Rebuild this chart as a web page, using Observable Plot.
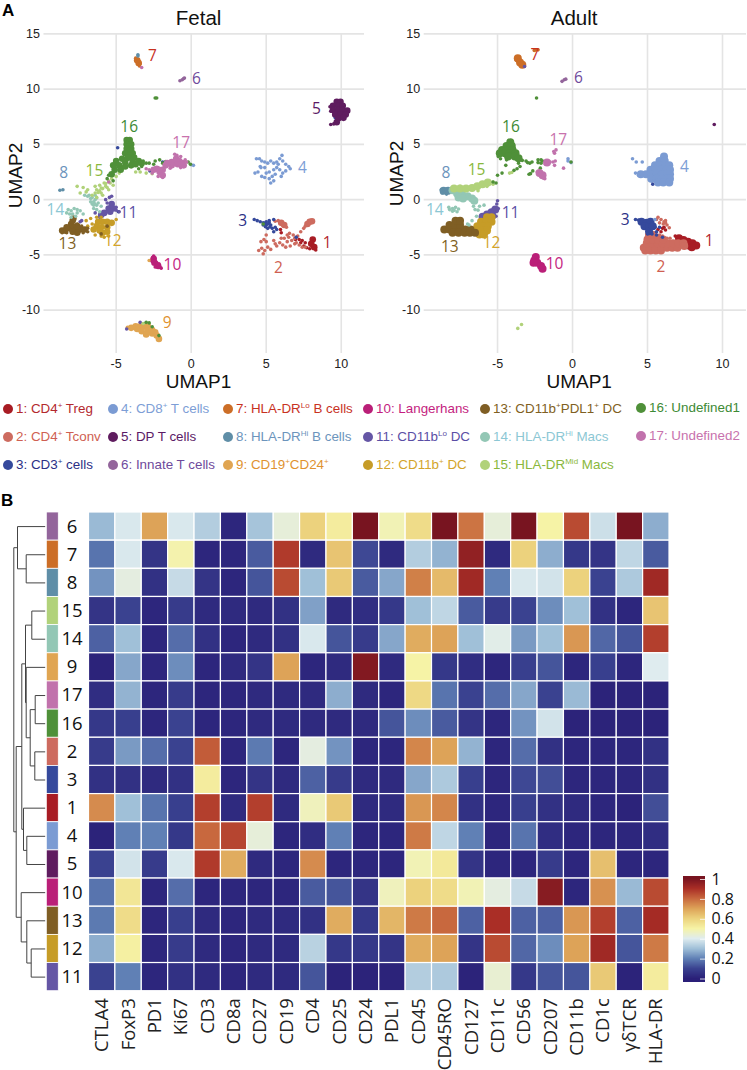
<!DOCTYPE html>
<html><head><meta charset="utf-8">
<script src="https://cdn.jsdelivr.net/npm/d3@7"></script>
<script src="https://cdn.jsdelivr.net/npm/@observablehq/plot@0.6"></script>
<style>
html,body{margin:0;padding:0;background:#fff}
#root{position:relative;width:747px;height:1070px;overflow:hidden;font-family:"Liberation Sans",sans-serif}
.lg{position:absolute;font-size:13.4px;line-height:16px;white-space:nowrap}
.lg sup{font-size:8px;line-height:0;vertical-align:baseline;position:relative;top:-5px}
.lgd{position:absolute;width:10px;height:10px;border-radius:50%}
.pl{position:absolute;font:bold 17px "Liberation Sans",sans-serif}
svg{overflow:visible}
</style></head><body><div id="root"></div>
<script>
const clusterIds=[1,2,3,4,5,6,7,8,9,10,11,12,13,14,15,16,17];
const clusterColors=["#a81c24","#cd6b5f","#35499c","#7b9bd3","#5f1c5f","#93659b","#cc6e27","#5f8ea7","#e0a552","#ba1f78","#6556a5","#c69c27","#7f5e24","#93c7b5","#b1d27a","#4f9039","#c172ac"];
const labelColors=["#b3282d","#cf5f52","#2b2f86","#7d9ed6","#5b1a66","#6f4a9c","#c8321f","#6c94bc","#e0922f","#c41e80","#5a4ea5","#d3a42a","#7f5f22","#8cc7d4","#8ab83c","#3d8a35","#c872ad"];
const legendNames=['1: CD4<sup>+</sup> Treg','2: CD4<sup>+</sup> Tconv','3: CD3<sup>+</sup> cells','4: CD8<sup>+</sup> T cells','5: DP T cells','6: Innate T cells','7: HLA-DR<sup>Lo</sup> B cells','8: HLA-DR<sup>Hi</sup> B cells','9: CD19<sup>+</sup>CD24<sup>+</sup>','10: Langerhans','11: CD11b<sup>Lo</sup> DC','12: CD11b<sup>+</sup> DC','13: CD11b<sup>+</sup>PDL1<sup>+</sup> DC','14: HLA-DR<sup>Hi</sup> Macs','15: HLA-DR<sup>Mid</sup> Macs','16: Undefined1','17: Undefined2'];

// fetal panel: scattered cells (p) and dense cores (c), per cluster
const fp1=[[7.0,-3.4],[7.2,-3.6],[7.4,-3.7],[7.6,-3.9],[7.3,-3.9],[7.5,-4.2],[7.7,-4.35],[7.9,-4.45],[6.95,-3.6],[5.95,-2.7],[6.0,-3.0],[8.3,-4.55]];
const fc1=[[8.1,-3.6],[8.0,-4.0],[8.2,-4.3]];
const fp2=[[4.5,-4.6],[4.7,-4.4],[4.8,-4.9],[4.9,-4.6],[5.1,-4.3],[5.3,-4.5],[5.0,-3.8],[4.65,-3.8],[4.85,-3.6],[5.0,-3.2],[5.5,-3.7],[5.7,-4.2],[5.9,-3.9],[6.1,-4.1],[6.2,-3.5],[6.4,-3.8],[6.5,-3.4],[6.7,-3.7],[6.8,-3.2],[6.9,-4.0],[7.1,-3.3],[7.0,-3.9],[6.3,-4.3],[6.6,-4.2],[7.2,-4.1],[7.4,-4.3],[5.6,-4.0],[6.0,-3.5],[6.4,-3.2],[7.6,-4.3],[5.6,-1.95],[5.8,-1.9],[6.0,-2.0],[6.2,-2.2],[6.35,-2.5],[6.1,-2.3],[5.9,-2.1],[7.3,-2.9],[7.5,-2.6],[7.7,-2.3],[7.6,-2.4],[6.55,-3.05],[6.9,-3.5]];
const fc2=[[7.9,-2.0],[7.75,-2.2],[8.05,-1.95],[6.0,-2.1],[6.2,-2.3]];
const fp3=[[4.2,-1.8],[4.4,-1.9],[4.6,-2.0],[4.8,-2.1],[5.0,-2.0],[5.2,-2.1],[4.8,-2.3],[5.0,-2.3],[5.3,-2.3],[5.1,-2.6],[5.4,-2.6],[5.6,-2.5],[5.5,-2.9],[5.7,-2.7],[5.2,-1.9],[5.5,-1.8],[7.0,-3.4],[9.55,7.6],[9.6,7.4],[9.7,7.1],[-4.9,4.7],[-4.85,-1.1],[-2.75,2.6],[-1.9,3.4],[4.9,-2.15],[5.1,-2.2],[4.95,-2.45],[5.25,-2.45]];
const fp4=[[4.25,2.4],[4.45,2.5],[4.6,3.0],[4.35,3.7],[4.55,3.7],[4.7,3.5],[4.9,3.4],[4.65,2.9],[4.9,2.9],[5.1,3.3],[5.3,3.5],[5.5,3.3],[5.7,3.4],[5.9,3.7],[6.05,4.0],[6.1,3.5],[6.3,3.2],[6.5,3.0],[6.6,2.8],[6.3,2.6],[6.1,2.4],[5.9,2.7],[5.7,2.9],[5.5,2.7],[5.2,2.5],[5.0,2.4],[4.9,2.0],[5.2,1.9],[5.4,2.1],[5.6,2.3],[6.0,2.1],[5.3,1.5],[5.5,1.7],[4.7,2.1],[5.8,3.2],[0.0,3.15],[0.15,3.1]];
const fp5=[[9.5,6.85],[9.3,6.8],[9.25,8.4],[9.3,8.0]];
const fc5=[[9.7,8.85],[9.95,8.85],[9.45,8.5],[9.8,8.5],[10.1,8.5],[9.45,8.1],[9.8,8.1],[10.1,8.1],[10.4,8.05],[9.6,7.7],[9.95,7.7],[10.3,7.7],[9.8,7.35],[10.15,7.4],[9.7,7.0]];
const fp6=[[-0.75,10.75],[-0.6,10.85],[-0.5,10.95],[-0.45,11.0]];
const fp7=[[-3.7,12.8],[-3.65,12.5],[-3.55,12.25],[-3.45,12.1],[-3.5,12.6],[-3.4,12.3]];
const fc7=[[-3.6,12.6],[-3.5,12.35]];
const fp8=[[-8.75,0.85],[-8.55,0.9],[-3.55,13.1],[-3.55,13.0]];
const fp9=[[-2.8,-5.5],[-2.65,-5.45],[-4.25,-11.55]];
const fc9=[[-4.0,-11.6],[-3.7,-11.45],[-3.4,-11.45],[-3.6,-11.7],[-3.2,-11.5],[-2.9,-11.4],[-3.3,-11.9],[-2.9,-11.9],[-2.6,-12.1],[-2.4,-12.0],[-2.3,-12.3],[-2.15,-12.6],[-2.6,-11.8],[-3.0,-12.2]];
const fp10=[[-2.5,-5.1],[-2.6,-5.6],[-2.3,-5.7],[-2.0,-6.2],[-2.15,-5.8],[-2.4,-6.1],[-2.55,-5.25],[-2.1,-6.1]];
const fc10=[[-2.5,-5.35],[-2.45,-5.7],[-2.2,-6.0]];
const fp11=[[-5.6,-0.3],[-5.0,-0.7],[-4.8,-1.1],[-5.3,0.3],[-5.45,0.2],[-6.1,-1.6],[-6.4,-1.2],[-5.0,-0.95],[-7.4,-2.0],[-7.3,-1.9],[-8.0,-2.5],[-5.7,0.0],[-3.4,-11.1],[-4.3,-11.7]];
const fc11=[[-5.3,-0.4],[-5.5,-0.8],[-5.2,-0.8],[-5.8,-1.2],[-5.4,-1.1],[-6.0,-1.4]];
const fp12=[[-7.0,-1.9],[-6.7,-1.7],[-6.6,-2.2],[-6.3,-1.6],[-6.0,-1.6],[-6.0,-3.3],[-5.8,-3.4],[-6.4,-3.2],[-5.5,-3.3],[-5.0,-1.8],[-6.9,-2.4]];
const fc12=[[-6.2,-2.0],[-5.9,-2.0],[-5.6,-2.0],[-6.3,-2.4],[-6.0,-2.5],[-5.6,-2.5],[-5.9,-3.0],[-5.6,-2.9],[-6.1,-2.8],[-5.3,-2.1],[-6.5,-2.7]];
const fp13=[[-8.6,-3.0],[-8.3,-3.0],[-7.9,-3.0],[-7.5,-3.0],[-7.2,-3.0],[-6.9,-2.9],[-7.3,-2.4],[-7.6,-2.2],[-6.9,-2.6],[-6.0,-3.1],[-5.6,-2.4]];
const fc13=[[-8.4,-2.8],[-8.1,-2.6],[-8.0,-2.2],[-7.8,-2.5],[-7.9,-1.9],[-7.85,-1.7],[-7.7,-2.8],[-7.4,-2.7],[-7.1,-2.7],[-8.3,-2.5],[-8.6,-2.8],[-7.6,-2.4],[-7.6,-3.0],[-7.9,-2.9]];
const fp14=[[-7.1,0.4],[-6.9,0.3],[-6.7,0.1],[-6.5,-0.2],[-6.4,0.0],[-6.6,-0.4],[-6.3,-0.5],[-6.5,-0.8],[-6.3,-0.9],[-6.1,-1.1],[-6.2,-0.3],[-6.8,0.4],[-6.0,-0.6],[-6.4,0.4],[-8.2,-0.9],[-8.0,-1.0],[-7.8,-0.8],[-7.6,-0.9],[-7.9,-1.3],[-7.6,-1.2],[-8.1,-1.3],[-7.4,-1.0],[-8.3,-1.2],[-7.7,-1.5],[-7.2,-1.3],[-8.0,-1.6],[-6.5,-0.5],[-6.7,-0.2],[-6.6,0.2],[-6.3,0.15],[-6.45,-0.35]];
const fp15=[[-3.7,2.5],[-3.4,2.5],[-3.0,2.4],[-2.6,2.35],[-5.4,1.5],[-5.7,1.2],[-5.9,1.0],[-6.1,0.8],[-6.4,0.6],[-6.6,0.4],[-5.8,1.5],[-5.5,0.9],[-6.9,0.9],[-7.0,0.7],[-7.6,1.2],[-7.2,1.1],[-6.0,0.6],[-5.6,1.1],[-6.3,0.2],[-5.9,0.4],[-6.3,0.9],[-5.2,1.3],[-7.4,0.6],[-6.4,1.2],[-6.1,1.3],[-5.3,1.9],[-5.0,2.1],[-4.8,2.4],[-3.2,-11.2],[-5.5,1.7],[-5.7,1.45],[-6.0,1.05],[-6.2,0.65]];
const fc16=[[-4.3,5.4],[-4.1,5.4],[-4.15,5.2],[-4.3,5.0],[-4.0,5.0],[-4.15,4.8],[-4.3,4.6],[-4.0,4.6],[-4.15,4.4],[-3.9,4.2],[-4.4,4.2],[-4.15,4.0],[-4.2,3.8],[-3.8,3.8],[-4.6,3.7],[-5.0,3.5],[-4.4,3.4],[-3.9,3.4],[-3.5,3.5],[-4.8,3.1],[-4.4,3.0],[-4.0,3.1],[-5.1,2.7],[-4.7,2.7],[-5.3,2.3],[-3.7,3.2],[-3.3,3.3],[-5.2,3.1]];
const fp16=[[-3.2,3.5],[-3.0,3.3],[-3.3,3.0],[-2.8,3.3],[-2.4,3.5],[-2.1,3.6],[-1.9,3.3],[-1.7,3.2],[-2.5,3.2],[-3.5,2.8],[-5.5,2.2],[-5.6,1.9],[-5.2,1.7],[-1.7,3.45],[-0.05,3.2],[-0.2,3.4],[-2.4,9.2],[-2.3,9.2],[-3.0,-11.1],[-2.8,-11.15],[-2.15,-12.3],[-2.6,-11.5],[4.8,-2.2]];
const fc17=[[-1.0,3.7],[-0.8,3.5],[-1.3,3.4],[-1.1,3.4],[-0.6,3.3],[-0.9,3.2],[-0.7,3.2],[-1.3,3.1],[-1.7,3.1],[-0.5,3.1],[-1.9,2.7],[-2.1,2.5],[-1.9,2.2],[-2.3,2.8],[-2.5,2.7],[-1.6,3.3],[-2.15,2.7]];
const fp17=[[-1.1,4.1],[-0.95,4.0],[-0.7,3.9],[-0.4,3.6],[-0.3,3.4],[-2.8,2.7],[-3.0,2.8],[-2.6,2.4],[-2.2,2.1],[-1.9,2.0],[-0.7,2.9],[-1.4,2.85],[-3.3,11.95],[-5.5,1.6]];

// adult panel
const ap1=[[6.85,-3.3],[6.0,-2.6],[6.2,-2.75],[5.9,-2.9],[6.1,-2.5],[5.7,-2.7]];
const ac1=[[7.1,-3.5],[7.4,-3.65],[7.7,-3.8],[8.0,-3.95],[8.25,-4.15],[7.75,-4.15],[7.95,-4.3]];
const ap2=[[5.9,-1.8],[6.1,-2.0],[6.3,-2.3],[6.45,-2.55],[5.6,-1.8],[5.8,-2.1],[6.0,-3.3],[5.8,-3.2],[6.3,-3.5],[6.5,-3.5],[6.2,-1.9],[5.7,-1.6],[6.05,-2.2],[6.2,-2.1]];
const ac2=[[4.85,-4.6],[5.2,-4.6],[5.55,-4.6],[5.9,-4.6],[4.75,-4.35],[5.1,-4.35],[5.5,-4.35],[5.9,-4.35],[6.3,-4.35],[6.65,-4.35],[7.0,-4.35],[4.95,-3.95],[5.3,-3.95],[5.65,-3.95],[6.0,-3.95],[6.35,-3.95],[6.7,-3.95],[7.05,-3.95],[7.4,-3.95],[5.0,-3.6],[5.35,-3.6],[5.7,-3.6],[6.05,-3.6],[5.1,-3.2],[5.4,-3.2],[7.45,-4.2]];
const ap3=[[4.2,-1.8],[4.4,-1.85],[5.5,-2.5],[5.6,-2.9],[5.3,-3.1],[5.6,-3.2],[6.0,-3.4],[5.0,-3.1],[5.8,-2.5],[5.3,1.7],[5.35,1.4],[5.4,1.9]];
const ac3=[[4.6,-2.0],[4.95,-2.1],[5.2,-2.0],[4.8,-2.4],[5.1,-2.5],[5.1,-2.85],[5.35,-2.4]];
const ap4=[[4.0,3.7],[4.25,3.4],[4.65,3.4],[4.4,2.2],[4.2,2.4],[-0.3,3.7],[-0.3,3.5],[-0.1,3.35],[5.5,-1.8]];
const ac4=[[6.1,3.9],[5.8,3.5],[6.15,3.5],[5.5,3.1],[5.85,3.1],[6.2,3.1],[6.45,3.1],[5.2,2.7],[5.55,2.7],[5.9,2.7],[6.25,2.7],[6.5,2.7],[4.55,2.3],[4.9,2.3],[5.25,2.3],[5.6,2.3],[5.95,2.3],[6.3,2.3],[6.5,2.3],[5.25,1.9],[5.6,1.9],[5.95,1.9],[6.3,1.9],[6.5,1.9],[5.7,1.55],[6.05,1.55],[6.45,1.55]];
const ap2b=[[5.2,2.1],[5.7,2.4],[6.5,2.3],[5.3,2.5],[5.9,3.1],[6.4,3.2],[4.55,2.3]];
const ap5=[[9.45,6.8]];
const ap6=[[-0.7,10.7],[-0.55,10.85],[-0.45,10.9]];
const ap7=[[-3.75,12.6],[-3.2,12.1],[-2.45,13.55],[-2.3,13.55],[-2.55,13.5]];
const ac7=[[-3.65,12.8],[-3.5,12.4],[-3.35,12.2]];
const ap8=[[-8.75,0.9],[-8.7,0.6],[-8.4,0.5],[-8.1,1.0]];
const ac8=[[-8.6,0.8],[-8.3,0.8]];
const ac10=[[-2.45,-5.2],[-2.55,-5.5],[-2.35,-5.7],[-2.1,-6.0],[-2.0,-6.25],[-2.6,-5.7]];
const ap11=[[-5.0,-0.1],[-5.05,-0.4],[-4.95,-0.8],[-5.1,-1.5],[-5.3,-1.5],[-3.2,12.05]];
const ac11=[[-6.0,-1.55],[-5.7,-1.35],[-5.4,-1.15],[-5.15,-0.9],[-5.35,-1.45]];
const ac12=[[-5.7,-1.6],[-5.4,-1.6],[-6.1,-2.0],[-5.75,-2.0],[-5.4,-2.0],[-6.35,-2.4],[-6.0,-2.4],[-5.65,-2.4],[-6.7,-2.8],[-6.35,-2.8],[-6.0,-2.8],[-5.7,-2.8],[-6.2,-3.15],[-5.9,-3.15]];
const ac13=[[-8.55,-2.7],[-8.2,-2.7],[-7.85,-2.7],[-7.5,-2.7],[-7.15,-2.7],[-6.8,-2.7],[-8.2,-2.3],[-7.85,-2.3],[-7.5,-2.3],[-7.8,-1.9],[-7.5,-1.9],[-8.0,-3.0],[-7.6,-3.0],[-7.2,-3.0],[-6.85,-3.0],[-6.5,-3.0]];
const ac14=[[-8.0,0.85],[-7.7,0.55],[-7.35,0.45],[-7.0,0.3],[-6.7,0.1],[-7.6,0.2],[-7.3,0.1],[-6.55,-0.1]];
const ap14=[[-8.2,-0.9],[-8.0,-0.8],[-7.8,-0.7],[-7.6,-0.85],[-7.7,-1.1],[-8.0,-1.05],[-8.25,-0.7],[-6.6,-0.6],[-6.5,-0.9],[-6.2,-0.6],[-6.3,-0.95],[-6.4,-1.5],[-6.7,-1.9],[-6.9,-2.3],[-7.0,-2.2],[-5.9,-0.5],[-7.9,-0.95]];
const ac15=[[-7.9,1.0],[-7.5,1.0],[-7.1,1.0],[-6.7,1.05],[-6.35,1.2],[-6.0,1.4],[-5.65,1.55]];
const ap15=[[-7.9,1.1],[-7.5,1.2],[-5.3,1.6],[-5.3,1.4],[-5.7,1.2],[-6.3,0.8],[-3.65,-11.65],[-3.4,-11.3],[-4.2,2.4],[-4.05,2.45]];
const ac16=[[-4.15,5.2],[-4.4,4.85],[-4.05,4.85],[-4.7,4.5],[-4.35,4.5],[-4.0,4.5],[-4.85,4.2],[-4.5,4.2],[-4.15,4.2],[-3.8,4.2],[-4.3,3.9],[-3.85,3.9],[-3.6,3.75]];
const ap16=[[-3.1,3.5],[-3.0,3.35],[-2.85,3.3],[-4.95,3.9],[-4.8,3.7],[-4.4,3.6],[-5.0,2.2],[-4.7,2.4],[-4.45,3.1],[-3.7,2.8],[-3.5,3.0],[-3.9,2.65],[-3.6,3.3],[-2.9,2.3],[-2.8,2.35],[-2.7,3.4],[-2.3,3.6],[-2.1,3.6],[-2.1,3.3],[-2.0,3.5],[-2.15,2.85],[-2.3,3.35],[-5.3,1.6],[-5.1,1.5],[-2.4,9.2],[-0.1,3.4],[-2.65,2.6],[-3.35,3.55]];
const ac17=[[-2.2,2.4],[-2.0,2.2],[-1.7,3.35]];
const ap17=[[-2.35,2.5],[-1.85,1.9],[-1.2,4.2],[-1.1,4.5],[-1.25,4.35],[-1.2,3.1],[-1.3,3.4],[-1.15,3.5],[-0.6,2.85],[-1.8,3.2],[-1.5,3.4],[-1.95,1.95]];

const fetalLabels=[[1,9.07,-3.9],[2,5.82,-6.2],[3,3.44,-1.93],[4,7.42,2.9],[5,8.35,8.2],[6,0.35,10.9],[7,-2.58,13],[8,-8.49,2.38],[9,-1.6,-11.17],[10,-1.25,-5.93],[11,-4.18,-1.2],[12,-5.22,-3.7],[13,-8.25,-4.03],[14,-9.05,-0.93],[15,-6.45,2.56],[16,-4.13,6.53],[17,-0.67,5.12]];
const adultLabels=[[1,9.11,-3.79],[2,5.89,-6.11],[3,3.51,-1.87],[4,7.47,2.95],[6,0.4,10.96],[7,-2.51,13.1],[8,-8.44,2.44],[10,-1.2,-5.84],[11,-4.13,-1.17],[12,-5.4,-3.95],[13,-8.18,-4.27],[14,-9.18,-0.9],[15,-6.4,2.65],[16,-4.11,6.57],[17,-0.95,5.39]];
const xTicks=[-5,0,5,10], yTicks=[-10,-5,0,5,10,15];

// heatmap
const rowOrder=[6,7,8,15,14,9,17,16,2,3,1,4,5,10,13,12,11];
const markers=["CTLA4","FoxP3","PD1","Ki67","CD3","CD8a","CD27","CD19","CD4","CD25","CD24","PDL1","CD45","CD45RO","CD127","CD11c","CD56","CD207","CD11b","CD1c","γδTCR","HLA-DR"];
const r6=[.29,.39,.7,.39,.33,.02,.31,.43,.6,.52,1,.48,.57,1,.78,.43,1,.5,.85,.37,1,.27];
const r7=[.18,.39,.06,.49,.02,.02,.14,.88,.03,.63,.11,.03,.33,.28,.95,.03,.6,.27,.07,.06,.35,.14];
const r8=[.23,.42,.05,.36,.06,.02,.13,.85,.3,.62,.14,.26,.76,.65,.92,.2,.39,.38,.6,.1,.32,.92];
const r15=[.06,.1,.02,.08,.03,.03,.03,.05,.25,.03,.04,.07,.3,.35,.14,.08,.1,.22,.3,.05,.02,.63];
const r14=[.15,.3,.02,.17,.05,.02,.03,.05,.39,.13,.08,.26,.68,.7,.3,.41,.24,.3,.72,.16,.13,.87];
const r9=[.01,.26,.02,.22,.02,.03,.06,.7,.02,.03,.98,.03,.5,.07,.04,.02,.09,.13,.02,.09,.02,.4];
const r17=[.04,.28,.02,.08,.02,.02,.03,.03,.03,.27,.03,.02,.58,.18,.1,.17,.26,.1,.29,.01,.01,.01];
const r16=[.07,.09,.02,.1,.02,.02,.03,.03,.03,.03,.03,.13,.22,.14,.06,.02,.23,.38,.01,.01,.01,.01];
const r2=[.08,.24,.17,.1,.82,.02,.19,.02,.42,.23,.02,.02,.75,.7,.28,.02,.17,.05,.02,.02,.02,.05];
const r3=[.05,.05,.03,.05,.52,.02,.06,.03,.15,.08,.03,.03,.26,.32,.09,.02,.11,.12,.02,.02,.02,.05];
const r1=[.74,.3,.18,.09,.87,.03,.87,.03,.47,.62,.03,.03,.72,.75,.05,.02,.09,.05,.03,.02,.01,.12];
const r4=[.01,.2,.2,.07,.8,.86,.43,.02,.04,.2,.02,.02,.77,.35,.2,.02,.18,.04,.02,.02,.02,.04];
const r5=[.1,.38,.08,.39,.88,.68,.03,.02,.74,.02,.02,.02,.48,.53,.06,.02,.02,.08,.02,.64,.02,.02];
const r10=[.18,.54,.02,.17,.02,.02,.02,.02,.14,.13,.06,.47,.6,.57,.48,.42,.36,.97,.02,.73,.29,.85];
const r13=[.19,.57,.02,.09,.03,.02,.03,.03,.05,.68,.07,.66,.77,.8,.15,.9,.15,.15,.72,.87,.15,.91];
const r12=[.27,.51,.02,.08,.03,.02,.03,.03,.34,.07,.07,.06,.68,.7,.06,.85,.16,.22,.7,.92,.13,.77];
const r11=[.1,.2,.02,.05,.03,.02,.03,.03,.13,.01,.01,.01,.33,.32,.01,.44,.07,.13,.13,.62,.01,.52];
const heatRows=[r6,r7,r8,r15,r14,r9,r17,r16,r2,r3,r1,r4,r5,r10,r13,r12,r11];
const colorDomain=[0,.1,.2,.3,.4,.5,.6,.7,.8,.9,1];
const colorRange=["#2a1f78","#3a4290","#6080b5","#a0c0d8","#dfecef","#f6f3a6","#ecd27d","#dda358","#c8683e","#aa2e26","#781420"];
const colorbarTicks=[0,.2,.4,.6,.8,1];

// dendrogram merges: height, row position of each child, height of each child
const dendroMerges=[[19,1,2,0,0],[27.7,0,1.5,0,19],[13.4,3,4,0,0],[10,6,7,0,0],[10.4,8,9,0,0],[15,6.5,8.5,10,10.4],[19,5,7.5,0,15],[19.7,3.5,6.25,13.4,19],[18.4,11,12,0,0],[21.7,10,11.5,0,18.4],[23.4,4.875,10.75,19.7,21.7],[14,15,16,0,0],[18.4,14,15.5,0,14],[24,13,14.75,0,18.4],[29,7.81,13.875,23.4,24],[31.4,.75,10.84,27.7,29]];

const root=document.getElementById("root");
const place=(el,l,t)=>{el.style.position="absolute";el.style.left=l+"px";el.style.top=t+"px";root.appendChild(el);return el;};
const sansFont='"Liberation Sans",sans-serif', humanFont='"Open Sans",sans-serif';

function scatter(o){
  const pts=o.pts.flatMap(([c,a])=>a.map(([x,y])=>({c,x,y})));
  const core=o.core.flatMap(([c,a])=>a.map(([x,y])=>({c,x,y})));
  const drawn=[];
  for(const id of clusterIds){
    drawn.push(Plot.dot(core.filter(d=>d.c===id),{x:"x",y:"y",fill:"c",r:o.coreR,stroke:"none"}));
    drawn.push(Plot.dot(pts.filter(d=>d.c===id),{x:"x",y:"y",fill:"c",r:1.8,stroke:"none"}));
  }
  return Plot.plot({
    width:o.width,height:390,marginLeft:o.ml,marginRight:o.mr,marginTop:33,marginBottom:37,
    style:{background:"transparent",fontFamily:sansFont,color:"#222"},
    x:{domain:o.xd},y:{domain:[-13.92,15.03]},
    color:{type:"ordinal",domain:clusterIds,range:clusterColors},
    marks:[
      Plot.gridX(xTicks,{stroke:"#e4e4e4",strokeWidth:1.6,strokeOpacity:1}),
      Plot.gridY(yTicks,{stroke:"#e4e4e4",strokeWidth:1.6,strokeOpacity:1}),
      Plot.axisX({ticks:xTicks,tickFormat:String,tickSize:0,tickPadding:6,fontSize:12.5,label:null,anchor:"bottom"}),
      Plot.axisY({ticks:yTicks,tickFormat:String,tickSize:0,tickPadding:4,fontSize:12.5,label:null,anchor:"left"}),
      ...drawn,
      ...o.labels.map(([id,x,y])=>Plot.text([[x,y]],{x:d=>d[0],y:d=>d[1],text:()=>String(id),fill:labelColors[id-1],fontSize:15.5,fontFamily:humanFont})),
      Plot.text([o.title],{frameAnchor:"top",lineAnchor:"middle",dx:o.tdx,dy:-15,fontSize:20.5,fill:"#111"}),
      Plot.text(["UMAP1"],{frameAnchor:"bottom",lineAnchor:"middle",dx:o.udx,dy:28.5,fontSize:19,fill:"#111"}),
      Plot.text(["UMAP2"],{frameAnchor:"left",textAnchor:"middle",lineAnchor:"middle",rotate:-90,dx:o.vdx,dy:o.vdy,fontSize:19,fill:"#111"})
    ]
  });
}
place(scatter({title:"Fetal",width:372,ml:43.5,mr:8,coreR:3.3,xd:[-9.81,11.55],tdx:-5.7,udx:-5.7,vdx:-28.5,vdy:-18,labels:fetalLabels,
  pts:[[1,fp1],[2,fp2],[3,fp3],[4,fp4],[5,fp5],[6,fp6],[7,fp7],[8,fp8],[9,fp9],[10,fp10],[11,fp11],[12,fp12],[13,fp13],[14,fp14],[15,fp15],[16,fp16],[17,fp17]],
  core:[[1,fc1],[2,fc2],[5,fc5],[7,fc7],[9,fc9],[10,fc10],[11,fc11],[12,fc12],[13,fc13],[16,fc16],[17,fc17]]}),0,0);
place(scatter({title:"Adult",width:375,ml:51.7,mr:1,coreR:4,xd:[-9.89,11.6],tdx:-11.2,udx:-6.2,vdx:-27.7,vdy:-20,labels:adultLabels,
  pts:[[1,ap1],[2,ap2],[3,ap3],[4,ap4],[5,ap5],[6,ap6],[7,ap7],[8,ap8],[11,ap11],[14,ap14],[15,ap15],[16,ap16],[17,ap17],[2,ap2b]],
  core:[[1,ac1],[2,ac2],[3,ac3],[4,ac4],[7,ac7],[8,ac8],[10,ac10],[11,ac11],[12,ac12],[13,ac13],[14,ac14],[15,ac15],[16,ac16],[17,ac17]]}),372,0);

// legend
const legendX=[7,112,227,367,484,640], legendY=[409,437,465];
clusterIds.forEach((id,i)=>{
  const col=Math.floor(i/3), row=i%3;
  const x=legendX[col], y=legendY[row]-(col===5?1:0);
  const d=document.createElement("div");d.className="lgd";d.style.background=clusterColors[i];
  d.style.left=(x-4)+"px";d.style.top=(y-5)+"px";root.appendChild(d);
  const t=document.createElement("div");t.className="lg";t.style.color=labelColors[i];
  t.style.left=(x+9)+"px";t.style.top=(y-8)+"px";t.innerHTML=legendNames[i];root.appendChild(t);
});
for(const [s,l,t] of [["A",2,1],["B",1,491]]){
  const p=document.createElement("div");p.className="pl";p.textContent=s;p.style.left=l+"px";p.style.top=t+"px";root.appendChild(p);
}

// heatmap
const cells=rowOrder.flatMap((row,i)=>markers.map((m,j)=>({row:String(row),m,v:heatRows[i][j]})));
place(Plot.plot({
  width:747,height:570,marginLeft:88.5,marginRight:78,marginTop:12,marginBottom:79.3,
  style:{background:"transparent",fontFamily:humanFont,color:"#222"},
  x:{type:"band",domain:markers,padding:0,round:false,label:null},
  y:{type:"band",domain:rowOrder.map(String),padding:0,round:false,label:null},
  color:{type:"linear",domain:colorDomain,range:colorRange,clamp:true},
  marks:[
    Plot.cell(cells,{x:"m",y:"row",fill:"v",stroke:"#fff",strokeWidth:1.2}),
    Plot.axisX({anchor:"bottom",tickSize:0,tickPadding:7,tickRotate:-90,fontSize:18.5,label:null}),
    Plot.axisY({ticks:[],label:null})
  ]
}),0,500);

// row strip, row numbers, dendrogram
const dendV=dendroMerges.map(([h,a,b])=>({x1:h,x2:h,y1:a,y2:b}));
const dendH=dendroMerges.flatMap(([h,a,b,ha,hb])=>[{x1:h,x2:ha,y1:a,y2:a},{x1:h,x2:hb,y1:b,y2:b}]);
const stripRows=rowOrder.map((id,i)=>({id,i}));
place(Plot.plot({
  width:88.5,height:570,marginLeft:0,marginRight:0,marginTop:12,marginBottom:79.3,
  style:{background:"transparent",fontFamily:humanFont},
  x:{domain:[44.7,-43.8],axis:null},y:{domain:[-.5,16.5],reverse:true,axis:null},
  color:{type:"ordinal",domain:clusterIds,range:clusterColors},
  marks:[
    Plot.link([...dendV,...dendH],{x1:"x1",x2:"x2",y1:"y1",y2:"y2",stroke:"#444",strokeWidth:1,curve:"linear"}),
    Plot.rect(stripRows,{y1:d=>d.i-.5,y2:d=>d.i+.5,fill:"id",stroke:"#fff",strokeWidth:.8,insetLeft:46.3,insetRight:30.2}),
    Plot.text(stripRows,{y:"i",text:d=>String(d.id),frameAnchor:"left",textAnchor:"middle",dx:71.5,fontSize:18.5,fill:"#111"})
  ]
}),0,500);

// colour bar
const barSteps=d3.range(-.035,1.02,.005);
place(Plot.plot({
  width:64,height:125,marginLeft:3,marginRight:39,marginTop:10,marginBottom:10,
  style:{background:"transparent",fontFamily:humanFont,color:"#111"},
  y:{domain:[-.035,1.02],label:null},
  color:{type:"linear",domain:colorDomain,range:colorRange,clamp:true},
  marks:[
    Plot.rect(barSteps,{y1:d=>d,y2:d=>d+.012,fill:d=>d,shapeRendering:"crispEdges"}),
    Plot.tickY(colorbarTicks,{stroke:"#fff",strokeWidth:1,strokeOpacity:.8,insetLeft:17}),
    Plot.axisY({anchor:"right",ticks:colorbarTicks,tickFormat:String,tickSize:0,tickPadding:6,fontSize:16,label:null})
  ]
}),680,867);
</script></body></html>
